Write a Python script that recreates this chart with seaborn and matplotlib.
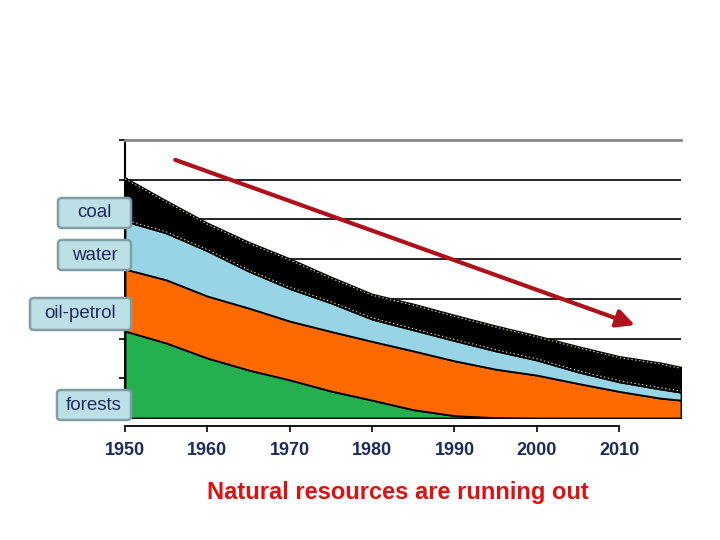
import numpy as np
import seaborn as sns
import matplotlib.pyplot as plt
from matplotlib.patches import FancyBboxPatch

# layer thickness per year (stacked from bottom: forests, oil-petrol, water, coal)
years = [1950, 1955, 1960, 1965, 1970, 1975, 1980, 1985, 1990, 1995, 2000, 2005, 2010, 2015, 2017.5]
forests = [2.19, 1.89, 1.51, 1.21, 0.96, 0.68, 0.45, 0.21, 0.06, 0.01, 0, 0, 0, 0, 0]
oil_petrol = [1.56, 1.59, 1.56, 1.56, 1.48, 1.50, 1.48, 1.48, 1.38, 1.22, 1.08, 0.87, 0.67, 0.50, 0.45]
water = [1.21, 1.18, 1.14, 0.93, 0.82, 0.72, 0.56, 0.53, 0.51, 0.46, 0.38, 0.29, 0.24, 0.23, 0.20]
coal = [1.09, 0.81, 0.70, 0.73, 0.75, 0.65, 0.63, 0.65, 0.64, 0.63, 0.61, 0.64, 0.64, 0.66, 0.63]

layer_names = ['forests', 'oil-petrol', 'water', 'coal']
layer_colors = ['#25b04f', '#ff6a00', '#97d5e6', '#000000']
decade_ticks = [1950, 1960, 1970, 1980, 1990, 2000, 2010]
title_text = 'Natural resources are running out'

sns.set_theme(style='white')
plt.rcParams['font.family'] = ['Liberation Sans', 'DejaVu Sans']

navy = '#1c2a5e'
fig = plt.figure(figsize=(7.2, 5.4), dpi=100)
W, H = 720, 540
ax = fig.add_axes([125 / W, 1 - 418 / H, (681 - 125) / W, (418 - 140) / H])

# spines first (set_position resets the ticks)
ax.spines['right'].set_visible(False)
ax.spines['top'].set_color('#888888')
ax.spines['top'].set_linewidth(2)
ax.spines['left'].set_color('black')
ax.spines['left'].set_linewidth(1.5)
ax.spines['bottom'].set_color('black')
ax.spines['bottom'].set_linewidth(1.3)
ax.spines['bottom'].set_position(('outward', 6))

ax.stackplot(years, forests, oil_petrol, water, coal, colors=layer_colors,
             edgecolor='black', linewidth=1.3, zorder=2)

# faint dotted texture on the coal band edges
tops = np.cumsum([forests, oil_petrol, water, coal], axis=0)
ax.plot(years, tops[3] - 0.03, ls=(0, (1.5, 2.5)), color='#e6e6b8', lw=0.7, zorder=3)
ax.plot(years, tops[2] + 0.03, ls=(0, (1.5, 2.5)), color='#e6e6b8', lw=0.7, zorder=3)

ax.set_xlim(1950, 2017.5)
ax.set_ylim(0, 7)
ax.set_yticks(range(0, 8))
ax.yaxis.grid(True, color='black', lw=1.2)
ax.xaxis.grid(False)
ax.set_axisbelow(True)
ax.tick_params(axis='y', left=True, length=4, width=1.2, color='black', labelleft=False)

ax.set_xticks(decade_ticks)
ax.tick_params(axis='x', bottom=True, length=4, width=1.2, color='black', pad=7)
ax.set_xticklabels([str(t) for t in decade_ticks], fontsize=13, fontweight='bold', color=navy)
ax.spines['bottom'].set_bounds(1950, 2010)

# red trend arrow
ax.annotate('', xy=(2011.9, 2.34), xytext=(1956.1, 6.5),
            arrowprops=dict(arrowstyle='-|>,head_length=0.9,head_width=0.45',
                            color='#b0101a', lw=3, shrinkA=0, shrinkB=0),
            zorder=5, annotation_clip=False)

# label boxes on the left
boxes = {
    'coal': (58, 198, 73, 30),
    'water': (58, 240, 73, 30),
    'oil-petrol': (30, 298, 101, 32),
    'forests': (57, 390, 74, 30),
}
for name in layer_names[::-1]:
    x0, y0, bw, bh = boxes[name]
    patch = FancyBboxPatch((x0 / W, 1 - (y0 + bh) / H), bw / W, bh / H,
                           boxstyle='round,pad=0,rounding_size=0.006',
                           transform=fig.transFigure, facecolor='#bde0e6',
                           edgecolor='#7f9ea6', linewidth=1.8, zorder=10)
    fig.patches.append(patch)
    fig.text((x0 + bw / 2) / W, 1 - (y0 + bh / 2) / H, name, ha='center', va='center',
             fontsize=13.5, color=navy, zorder=11)

fig.text(398 / W, 1 - 492 / H, title_text, ha='center', va='center',
         fontsize=17, fontweight='bold', color='#dd1111')

fig.savefig('out.png', dpi=100)
